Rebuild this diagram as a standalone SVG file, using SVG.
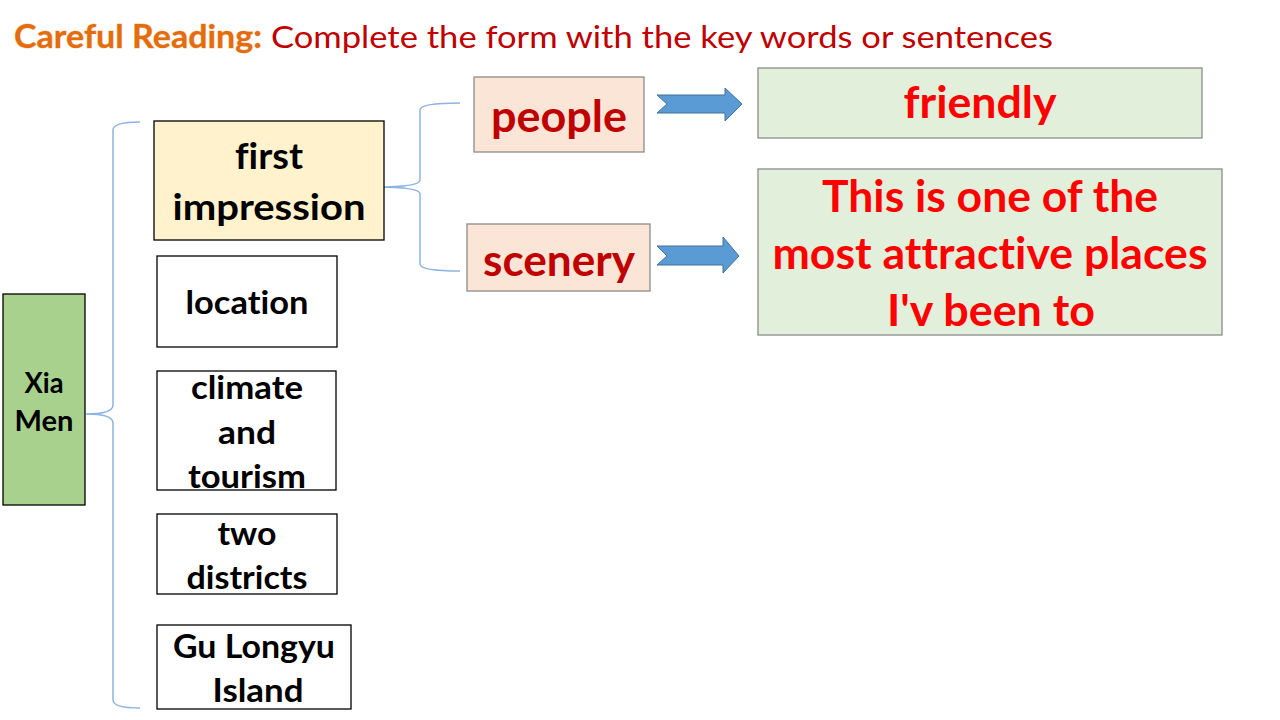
<svg xmlns="http://www.w3.org/2000/svg" width="1280" height="720" viewBox="0 0 1280 720">
<defs>
<style>
text{font-family:Lato,"Open Sans","Liberation Sans",sans-serif;font-weight:bold;text-anchor:middle;font-variant-ligatures:none}
.blk{fill:#000;font-size:32px}
.dr{fill:#C00000;font-size:44px}
.red{fill:#FF0000;font-size:44px}
.box{stroke:#000;stroke-width:1.3}
.gbox{stroke:#8C8C8C;stroke-width:1.3}
.brace{fill:none;stroke:#8DB3E2;stroke-width:1.5}
.arrow{fill:#5B9BD5;stroke:#41719C;stroke-width:1}
</style>
</defs>
<rect width="1280" height="720" fill="#fff"/>
<g id="title">
<text x="14" y="48" style="text-anchor:start;font-size:32px;fill:#E46C0A;stroke:#F8CBAD;stroke-width:0.8;paint-order:stroke" textLength="248" lengthAdjust="spacingAndGlyphs">Careful Reading:</text>
<text x="271" y="48" style="text-anchor:start;font-size:31px;font-weight:normal;fill:#C00000" textLength="782" lengthAdjust="spacingAndGlyphs">Complete the form with the key words or sentences</text>
</g>
<g id="connectors">
<path class="brace" d="M140,122 Q113,122 113,130 L113,405 Q113,414 86,414 Q113,414 113,423 L113,700 Q113,708 140,708"/>
<path class="brace" d="M460,103 Q420,103 420,110 L420,180 Q420,187 376,187 Q420,187 420,194 L420,264 Q420,271 460,271"/>
<path class="arrow" d="M657,95 L725,95 L725,88 L742,104 L725,121 L725,113 L657,113 L667,104 Z"/>
<path class="arrow" d="M657,246 L723,246 L723,237 L739,256 L723,273 L723,265 L657,265 L667,256 Z"/>
</g>
<g id="xiamen">
<rect class="box" x="3" y="294" width="82" height="211" fill="#A9D18E"/>
<text class="blk" x="44" y="393" style="font-size:28px" textLength="39" lengthAdjust="spacingAndGlyphs">Xia</text>
<text class="blk" x="44" y="431" style="font-size:28px" textLength="59" lengthAdjust="spacingAndGlyphs">Men</text>
</g>
<g id="first-impression">
<rect class="box" x="154" y="121" width="230" height="119" fill="#FFF2CC"/>
<text class="blk" x="269" y="169" style="font-size:36px" textLength="68" lengthAdjust="spacingAndGlyphs">first</text>
<text class="blk" x="269" y="220" style="font-size:36px" textLength="193" lengthAdjust="spacingAndGlyphs">impression</text>
</g>
<g id="location">
<rect class="box" x="157" y="256" width="180" height="91" fill="#fff"/>
<text class="blk" x="247" y="314" textLength="123" lengthAdjust="spacingAndGlyphs">location</text>
</g>
<g id="climate">
<rect class="box" x="157" y="371" width="179" height="119" fill="#fff"/>
<text class="blk" x="247" y="399" textLength="112" lengthAdjust="spacingAndGlyphs">climate</text>
<text class="blk" x="247" y="444" textLength="58" lengthAdjust="spacingAndGlyphs">and</text>
<text class="blk" x="247" y="488" textLength="118" lengthAdjust="spacingAndGlyphs">tourism</text>
</g>
<g id="districts">
<rect class="box" x="157" y="514" width="180" height="80" fill="#fff"/>
<text class="blk" x="247" y="545" textLength="59" lengthAdjust="spacingAndGlyphs">two</text>
<text class="blk" x="247" y="589" textLength="121" lengthAdjust="spacingAndGlyphs">districts</text>
</g>
<g id="gulongyu">
<rect class="box" x="157" y="625" width="194" height="84" fill="#fff"/>
<text class="blk" x="254" y="658" textLength="162" lengthAdjust="spacingAndGlyphs">Gu Longyu</text>
<text class="blk" x="258" y="702" textLength="91" lengthAdjust="spacingAndGlyphs">Island</text>
</g>
<g id="people">
<rect class="gbox" x="474" y="77" width="170" height="75" fill="#FBE5D6"/>
<text class="dr" x="559" y="132" textLength="136" lengthAdjust="spacingAndGlyphs">people</text>
</g>
<g id="scenery">
<rect class="gbox" x="467" y="224" width="183" height="67" fill="#FBE5D6"/>
<text class="dr" x="559" y="276" textLength="152" lengthAdjust="spacingAndGlyphs">scenery</text>
</g>
<g id="friendly">
<rect class="gbox" x="758" y="68" width="444" height="70" fill="#E2EFDA"/>
<text class="red" x="980" y="118" textLength="153" lengthAdjust="spacingAndGlyphs">friendly</text>
</g>
<g id="sentence">
<rect class="gbox" x="758" y="169" width="464" height="166" fill="#E2EFDA"/>
<text class="red" x="990" y="212" textLength="336" lengthAdjust="spacingAndGlyphs">This is one of the</text>
<text class="red" x="990" y="269" textLength="435" lengthAdjust="spacingAndGlyphs">most attractive places</text>
<text class="red" x="991" y="326" textLength="208" lengthAdjust="spacingAndGlyphs">I'v been to</text>
</g>
</svg>
